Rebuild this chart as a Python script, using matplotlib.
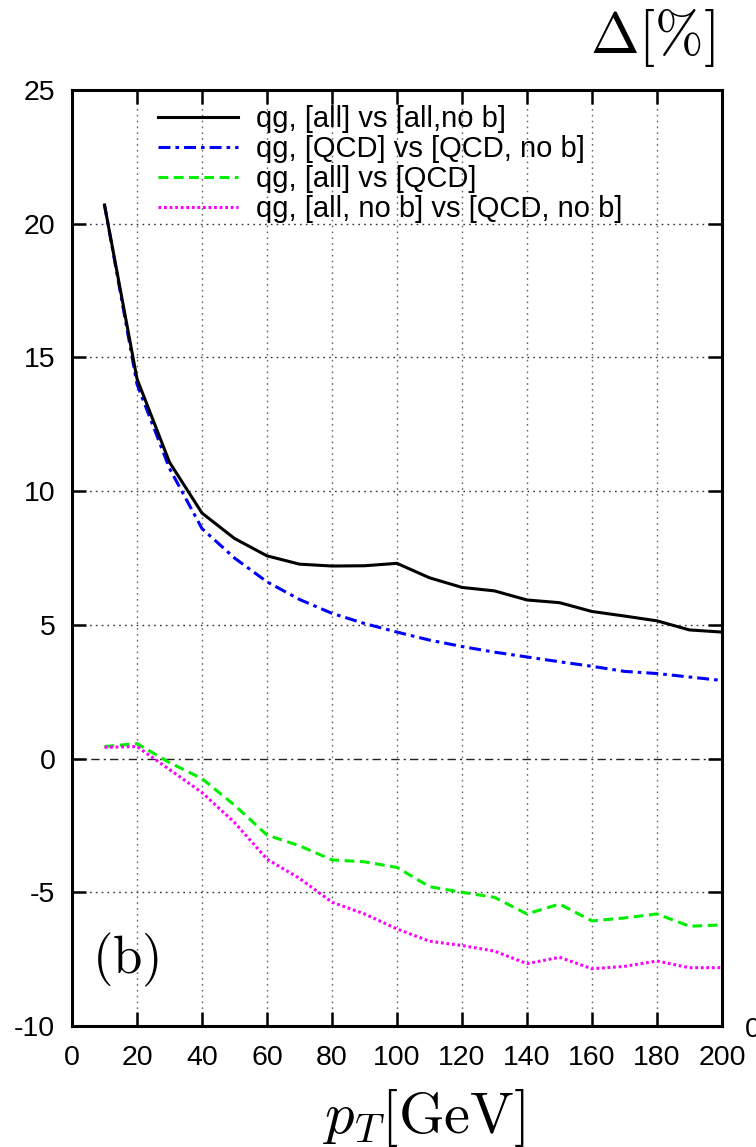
import matplotlib
matplotlib.use("Agg")
import matplotlib.pyplot as plt

plt.rcParams["font.family"] = ["Liberation Sans", "DejaVu Sans"]
plt.rcParams["mathtext.fontset"] = "cm"
plt.rcParams["lines.scale_dashes"] = False
plt.rcParams["axes.unicode_minus"] = False

pt = [10, 20, 30, 40, 50, 60, 70, 80, 90, 100,
      110, 120, 130, 140, 150, 160, 170, 180, 190, 200]

all_vs_all_nob = [20.7, 14.2, 11.08, 9.18, 8.23, 7.58, 7.27, 7.20, 7.21, 7.30,
                  6.76, 6.40, 6.27, 5.93, 5.83, 5.50, 5.33, 5.15, 4.81, 4.73]
qcd_vs_qcd_nob = [20.7, 14.0, 10.85, 8.6, 7.5, 6.61, 5.95, 5.43, 5.05, 4.73,
                  4.43, 4.19, 3.98, 3.80, 3.62, 3.45, 3.26, 3.18, 3.05, 2.92]
all_vs_qcd = [0.45, 0.56, -0.15, -0.75, -1.74, -2.86, -3.26, -3.79, -3.86, -4.07,
              -4.79, -5.00, -5.19, -5.81, -5.44, -6.07, -5.96, -5.81, -6.27, -6.22]
allnob_vs_qcdnob = [0.42, 0.45, -0.41, -1.27, -2.39, -3.76, -4.48, -5.37, -5.81, -6.37,
                    -6.83, -6.99, -7.20, -7.67, -7.43, -7.86, -7.77, -7.57, -7.82, -7.82]

labels = ["qg, [all] vs [all,no b]",
          "qg, [QCD] vs [QCD, no b]",
          "qg, [all] vs [QCD]",
          "qg, [all, no b] vs [QCD, no b]"]

xticks = [0, 20, 40, 60, 80, 100, 120, 140, 160, 180, 200]
yticks = [-10, -5, 0, 5, 10, 15, 20, 25]

W, H = 756, 1147
fig = plt.figure(figsize=(W / 100, H / 100), dpi=100)
ax = fig.add_axes([72 / W, 1 - 1026 / H, 650 / W, 936 / H])

# grid lines
for gx in xticks[1:-1]:
    ax.axvline(gx, color="#666666", lw=1.0, ls=(0, (1.2, 3.0)), zorder=1)
for gy in [-5, 5, 10, 15, 20]:
    ax.axhline(gy, color="#333333", lw=1.0, ls=(0, (1.2, 3.0)), zorder=1)
ax.axhline(0, color="#222222", lw=1.0, ls=(0, (6, 3, 1.5, 3)), zorder=1)

lw = 2.2
ax.plot(pt, all_vs_all_nob, color="black", lw=lw, label=labels[0], zorder=5)
ax.plot(pt, qcd_vs_qcd_nob, color="#0000ff", lw=lw, label=labels[1],
        dashes=(8.6, 3.6, 2.6, 3.6), zorder=4)
ax.plot(pt, all_vs_qcd, color="#00ee00", lw=lw, label=labels[2],
        dashes=(7.0, 4.0), zorder=3)
ax.plot(pt, allnob_vs_qcdnob, color="#ff00ff", lw=lw, label=labels[3],
        dashes=(2.0, 2.0), dash_capstyle="butt", zorder=3)

ax.set_xlim(0, 200)
ax.set_ylim(-10, 25)
ax.set_xticks(xticks)
ax.set_yticks(yticks)
ax.tick_params(direction="in", length=10, width=1.8, top=True, right=True,
               labelsize=20.5)
ax.tick_params(axis="x", pad=14)
ax.tick_params(axis="y", pad=12)
for s in ax.spines.values():
    s.set_linewidth(2.2)

leg = ax.legend(loc="upper left", bbox_to_anchor=((158 - 72) / 650, 1 - 15 / 936),
                frameon=False, fontsize=21, handlelength=2.75,
                handletextpad=0.62, labelspacing=0.07, borderpad=0.0,
                borderaxespad=0.0)

ax.text((92 - 72) / 650, (1026 - 989) / 936, r"$\mathrm{(b)}$",
        transform=ax.transAxes, fontsize=38, ha="left", va="bottom")
fig.text(715 / W, 1 - 53 / H, r"$\Delta[\%]$", fontsize=42,
         ha="right", va="baseline")
fig.text(424 / W, 1 - 1133 / H, r"$p_T[\mathrm{GeV}]$", fontsize=42,
         ha="center", va="baseline")
fig.text(745 / W, 1 - 1030 / H, "0", fontsize=20.5, ha="left", va="center")

fig.savefig("out.png", dpi=100)
